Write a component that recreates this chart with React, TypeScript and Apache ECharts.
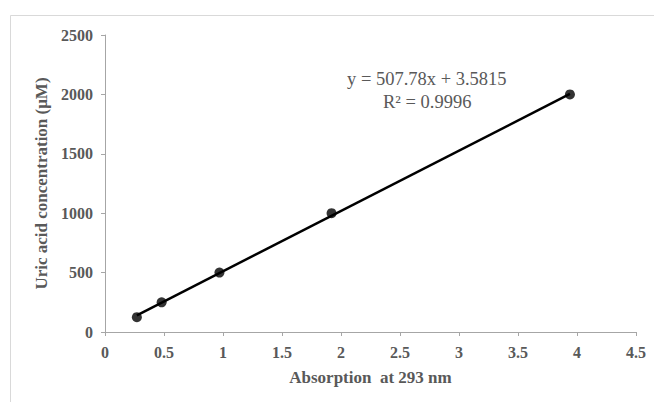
import React, { useEffect, useRef } from "react";
import * as echarts from "echarts";

const absorption = [0.27, 0.48, 0.97, 1.92, 3.94];
const concentration = [125, 250, 500, 1000, 2000];
const slope = 507.78;
const intercept = 3.5815;
const r2 = 0.9996;
const xTicks = [0, 0.5, 1, 1.5, 2, 2.5, 3, 3.5, 4, 4.5];
const yTicks = [0, 500, 1000, 1500, 2000, 2500];

export default function App() {
  const ref = useRef<HTMLDivElement>(null);
  useEffect(() => {
    if (!ref.current) return;
    const chart = echarts.init(ref.current, null, { renderer: "svg" });
    const xMin = Math.min(...absorption);
    const xMax = Math.max(...absorption);
    const trend = [
      [xMin, slope * xMin + intercept],
      [xMax, slope * xMax + intercept],
    ];
    const font = "Liberation Serif";
    chart.setOption({
      animation: false,
      backgroundColor: "#ffffff",
      textStyle: { fontFamily: font },
      grid: { left: 105, right: 18, top: 35, bottom: 70 },
      xAxis: {
        type: "value",
        min: xTicks[0],
        max: xTicks[xTicks.length - 1],
        interval: 0.5,
        name: "Absorption  at 293 nm",
        nameLocation: "middle",
        nameGap: 37,
        nameTextStyle: { fontFamily: font, fontWeight: "bold", fontSize: 17, color: "#595959" },
        axisLine: { show: true, lineStyle: { color: "#a6a6a6", width: 1 } },
        axisTick: { show: true, length: 4, lineStyle: { color: "#a6a6a6" } },
        axisLabel: {
          fontFamily: font, fontWeight: "bold", fontSize: 16, color: "#595959", margin: 12,
          formatter: (v: number) => String(v),
        },
        splitLine: { show: false },
      },
      yAxis: {
        type: "value",
        min: yTicks[0],
        max: yTicks[yTicks.length - 1],
        interval: 500,
        name: "Uric acid concentration (μM)",
        nameLocation: "middle",
        nameGap: 54,
        nameRotate: 90,
        nameTextStyle: { fontFamily: font, fontWeight: "bold", fontSize: 17, color: "#595959" },
        axisLine: { show: true, lineStyle: { color: "#a6a6a6", width: 1 } },
        axisTick: { show: true, length: 4, lineStyle: { color: "#a6a6a6" } },
        axisLabel: {
          fontFamily: font, fontWeight: "bold", fontSize: 16, color: "#595959", margin: 12,
          formatter: (v: number) => String(v),
        },
        splitLine: { show: false },
      },
      graphic: [
        {
          type: "rect",
          shape: { x: 10.5, y: 15.5, width: 700, height: 450 },
          style: { fill: "none", stroke: "#d9d9d9", lineWidth: 1 },
          silent: true,
        },
        {
          type: "text",
          left: 347,
          top: 69,
          style: {
            text: `y = ${slope}x + ${intercept}`,
            fontFamily: font,
            fontSize: 18.5,
            fill: "#595959",
          },
        },
        {
          type: "text",
          left: 383,
          top: 92,
          style: {
            text: `R² = ${r2}`,
            fontFamily: font,
            fontSize: 18.5,
            fill: "#595959",
          },
        },
      ],
      series: [
        {
          type: "line",
          data: trend,
          showSymbol: false,
          symbol: "none",
          lineStyle: { color: "#000000", width: 2.5 },
          z: 2,
        },
        {
          type: "scatter",
          data: absorption.map((x, i) => [x, concentration[i]]),
          symbol: "circle",
          symbolSize: 10,
          itemStyle: { color: "#000000" },
          z: 3,
        },
      ],
    });
    return () => chart.dispose();
  }, []);
  return (
    <div
      ref={ref}
      style={{ position: "fixed", left: 0, top: 0, width: 654, height: 402 }}
    />
  );
}
